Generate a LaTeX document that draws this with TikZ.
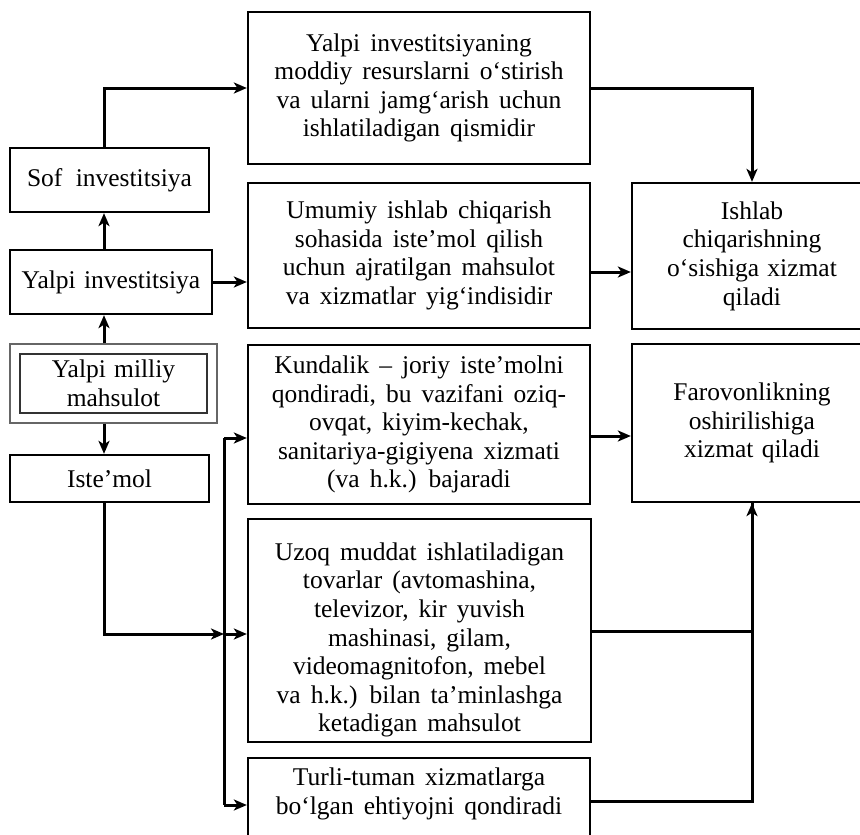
\documentclass[tikz,border=0pt]{standalone}
\usepackage{fontspec}
\setmainfont{Liberation Serif}[WordSpace=1.3]
\usetikzlibrary{arrows.meta}
\newcommand\boxfont{\fontsize{25.5}{28.6}\selectfont}
\newcommand\widesp{\spaceskip=10pt plus 1pt minus 1pt\relax}
\begin{document}
\begin{tikzpicture}[x=1pt,y=-1pt,
  box/.style={draw, line width=2.3pt, inner sep=0pt, align=center, font=\boxfont},
  wbox/.style={box, font=\boxfont\widesp},
  txt/.style={inner sep=0pt, align=center, font=\boxfont\widesp},
  conn/.style={line width=3pt},
  arr/.style={conn,-{Stealth[length=13pt,width=11pt,inset=3.5pt]}},
]
\useasboundingbox (0,0) rectangle (860,835);
% left column
\node[box, minimum width=199, minimum height=64] (H) at (109.5,180) {Sof\hspace{5pt} investitsiya};
\node[box, minimum width=202, minimum height=64] (I) at (111,282) {Yalpi investitsiya};
\node[draw=black!60, line width=1.2pt, minimum width=207, minimum height=79, inner sep=0pt] (Jo) at (113.5,383.5) {};
\node[box, draw=black!80, line width=1.5pt, minimum width=187, minimum height=59] (J) at (113.5,383.5) {Yalpi milliy\\ mahsulot};
\node[box, minimum width=199, minimum height=47] (K) at (109.5,478.5) {Iste’mol};
% middle column
\node[wbox, minimum width=342, minimum height=152] (A) at (419,88) {Yalpi investitsiyaning\\ moddiy resurslarni o‘stirish\\ va ularni jamg‘arish uchun\\ ishlatiladigan qismidir};
\node[wbox, minimum width=342, minimum height=145] (B) at (419,255.5) {Umumiy ishlab chiqarish\\ sohasida iste’mol qilish\\ uchun ajratilgan mahsulot\\ va xizmatlar yig‘indisidir};
\node[wbox, minimum width=342, minimum height=159] (C) at (419,424.5) {Kundalik – joriy iste’molni\\ qondiradi, bu vazifani oziq-\\ ovqat, kiyim-kechak,\\ sanitariya-gigiyena xizmati\\ (va h.k.) bajaradi};
\node[box, minimum width=343, minimum height=223] (D) at (419.5,630.5) {};
\node[txt] (Dt) at (419.5,640) {Uzoq muddat ishlatiladigan\\ tovarlar (avtomashina,\\ televizor, kir yuvish\\ mashinasi, gilam,\\ videomagnitofon, mebel\\ va h.k.) bilan ta’minlashga\\ ketadigan mahsulot};
\node[box, minimum width=342, minimum height=113, anchor=north] (E) at (419,757) {};
\node[txt] (Et) at (419,794) {Turli-tuman xizmatlarga\\ bo‘lgan ehtiyojni qondiradi};
% right column
\node[box, minimum width=240, minimum height=146] (F) at (752,256) {Ishlab\\ chiqarishning\\ o‘sishiga xizmat\\ qiladi};
\node[box, minimum width=240, minimum height=158] (G) at (752,423) {Farovonlikning\\ oshirilishiga\\ xizmat qiladi};
% helper coordinates
\coordinate (colx) at (104,0);
\coordinate (b1) at (224,438);
\coordinate (b2) at (224,634);
\coordinate (b3) at (224,805);
\coordinate (rB) at (590,272);
\coordinate (rC) at (590,436);
\coordinate (rD) at (591,631);
\coordinate (rE) at (590,801);
% left connectors
\draw[arr] (H.north -| colx) |- (A.west);
\draw[arr] (I.north -| colx) -- (H.south -| colx);
\draw[arr] (Jo.north -| colx) -- (I.south -| colx);
\draw[arr] (Jo.south -| colx) -- (K.north -| colx);
\draw[arr] (I.east) -- (I.east -| B.west);
\draw[arr] (K.south -| colx) |- (b2);
\draw[conn] (b1) -- (b3);
\draw[arr] (b1) -- (b1 -| C.west);
\draw[arr] (b2) -- (b2 -| D.west);
\draw[arr] (b3) -- (b3 -| E.west);
% right connectors
\draw[arr] (A.east) -| (F.north);
\draw[arr] (rB) -- (rB -| F.west);
\draw[arr] (rC) -- (rC -| G.west);
\draw[conn] (rD) -| (G.south);
\draw[arr] (rE) -| (G.south);
\end{tikzpicture}
\end{document}
